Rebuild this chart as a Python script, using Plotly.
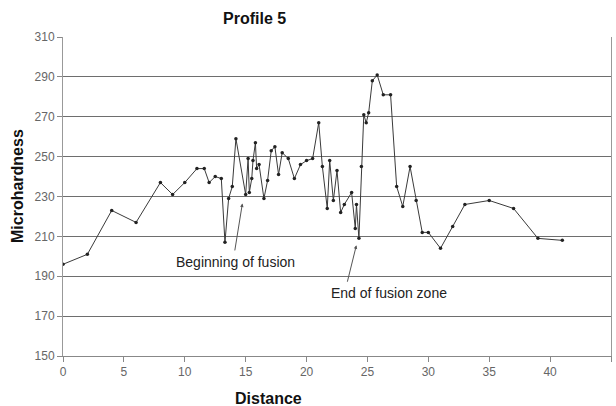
import plotly.graph_objects as go

distance = [0, 2, 4, 6, 8, 9, 10, 11, 11.6, 12, 12.5, 13, 13.3, 13.6, 13.9, 14.2,
            15.0, 15.2, 15.3, 15.5, 15.6, 15.8, 15.9, 16.1, 16.5, 16.8, 17.1, 17.4,
            17.7, 18.0, 18.5, 19.0, 19.5, 20.0, 20.5, 21.0, 21.3, 21.7, 21.9, 22.2,
            22.5, 22.8, 23.1, 23.7, 24.0, 24.1, 24.3, 24.5, 24.7, 24.9, 25.1, 25.4,
            25.8, 26.3, 26.9, 27.4, 27.9, 28.5, 29.0, 29.5, 30.0, 31.0, 32.0, 33.0,
            35.0, 37.0, 39.0, 41.0]
microhardness = [196, 201, 223, 217, 237, 231, 237, 244, 244, 237, 240, 239, 207, 229, 235, 259,
                 231, 249, 232, 239, 248, 257, 244, 246, 229, 238, 253, 255,
                 241, 252, 249, 239, 246, 248, 249, 267, 245, 224, 248, 228,
                 243, 222, 226, 232, 214, 226, 209, 245, 271, 267, 272, 288,
                 291, 281, 281, 235, 225, 245, 228, 212, 212, 204, 215, 226,
                 228, 224, 209, 208]

x_ticks = [0, 5, 10, 15, 20, 25, 30, 35, 40, 45]
y_ticks = [150, 170, 190, 210, 230, 250, 270, 290, 310]

FONT = "Liberation Sans, Arial, sans-serif"
W, H = 616, 406
L, R, T, B = 63, 5, 37, 50
pw, ph = W - L - R, H - T - B


def px_x(p):
    return (p - L) / pw


def px_y(p):
    return (H - p - B) / ph


fig = go.Figure()
fig.add_trace(go.Scatter(
    x=distance, y=microhardness, mode="lines+markers",
    line=dict(color="#3a3a3a", width=1),
    marker=dict(color="#222222", size=3.5),
    showlegend=False, hoverinfo="skip",
))

fig.update_layout(
    width=W, height=H, autosize=False,
    margin=dict(l=L, r=R, t=T, b=B, autoexpand=False),
    paper_bgcolor="white", plot_bgcolor="white",
    font=dict(family=FONT, color="#666666", size=12),
    xaxis=dict(range=[0, 45], tickvals=x_ticks, showgrid=False, zeroline=False,
               showline=True, linecolor="#888888", linewidth=1,
               ticks="outside", ticklen=5, tickcolor="#888888",
               tickfont=dict(size=12, color="#666666"), automargin=False),
    yaxis=dict(range=[150, 310], tickvals=y_ticks, showgrid=True,
               gridcolor="#6e6e6e", gridwidth=1, zeroline=False,
               showline=True, linecolor="#999999", linewidth=1, mirror=True,
               ticks="outside", ticklen=5, tickcolor="#888888",
               tickfont=dict(size=12, color="#666666"), automargin=False),
    annotations=[
        dict(text="<b>Profile 5</b>", x=px_x(254), y=px_y(18), xref="paper", yref="paper",
             xanchor="center", yanchor="middle",
             showarrow=False, font=dict(size=16, color="#111111")),
        dict(text="<b>Distance</b>", x=px_x(268), y=px_y(398), xref="paper", yref="paper",
             xanchor="center", yanchor="middle",
             showarrow=False, font=dict(size=16, color="#111111")),
        dict(text="<b>Microhardness</b>", x=px_x(17), y=px_y(186), xref="paper", yref="paper",
             xanchor="center", yanchor="middle",
             showarrow=False, textangle=-90, font=dict(size=16, color="#111111")),
        dict(text="Beginning of fusion", x=14.2, y=197, xref="x", yref="y", showarrow=False,
             font=dict(size=14, color="#222222")),
        dict(text="End of fusion zone", x=26.77, y=181.5, xref="x", yref="y", showarrow=False,
             font=dict(size=14, color="#222222")),
        dict(text="", x=14.73, y=226.5, xref="x", yref="y", ax=14.09, ay=202.2,
             axref="x", ayref="y", showarrow=True, arrowhead=2, arrowsize=0.7,
             arrowwidth=1, arrowcolor="#555555"),
        dict(text="", x=24.09, y=205.5, xref="x", yref="y", ax=23.32, ay=186.5,
             axref="x", ayref="y", showarrow=True, arrowhead=2, arrowsize=0.7,
             arrowwidth=1, arrowcolor="#555555"),
    ],
)

fig.write_html("out.html", config={"responsive": False, "displayModeBar": False},
               post_script="document.body.style.margin='0';document.body.style.overflow='hidden';")
